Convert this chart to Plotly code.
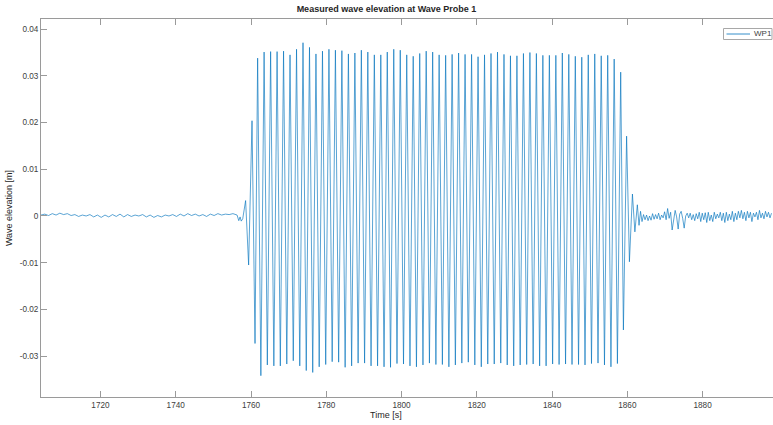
import plotly.graph_objects as go

# ---------------- data ----------------
# quiet water before the wave train (1 s sampling)
pre_t0, pre_dt = 1704.2, 1.0
pre_v = [0.0002, 0.0004, 0.0001, 0.0005, 0.0002, 0.0006, 0.0003, 0.0005, 0.0001, 0.0003,
         -0.0001, 0.0002, 0.0000, 0.0003, -0.0002, 0.0002, -0.0003, 0.0002, -0.0002, 0.0003,
         -0.0001, 0.0004, -0.0002, 0.0003, -0.0001, 0.0002, 0.0000, 0.0003, -0.0002, 0.0002,
         -0.0003, 0.0001, -0.0002, 0.0002, 0.0000, 0.0003, -0.0001, 0.0004, 0.0000, 0.0005,
         0.0001, 0.0004, 0.0000, 0.0003, -0.0001, 0.0004, 0.0001, 0.0005, 0.0002, 0.0004,
         0.0003, 0.0005]

# arrival of the wave front
onset_t = [1756.3, 1756.75, 1757.1, 1757.4, 1757.8, 1758.57, 1759.37, 1760.27, 1761.07]
onset_v = [0.0002, -0.0010, -0.0002, -0.0011, -0.0006, 0.0033, -0.0105, 0.0204, -0.0273]

# crests of the regular wave train
crest_t = [1761.76, 1763.48, 1765.21, 1766.93, 1768.65, 1770.37, 1772.10, 1773.82, 1775.54, 1777.26,
           1778.99, 1780.71, 1782.43, 1784.15, 1785.88, 1787.60, 1789.32, 1791.04, 1792.77, 1794.49,
           1796.21, 1797.93, 1799.66, 1801.38, 1803.10, 1804.83, 1806.55, 1808.27, 1809.99, 1811.72,
           1813.44, 1815.16, 1816.88, 1818.61, 1820.33, 1822.05, 1823.77, 1825.50, 1827.22, 1828.94,
           1830.66, 1832.39, 1834.11, 1835.83, 1837.55, 1839.28, 1841.00, 1842.72, 1844.44, 1846.17,
           1847.89, 1849.61, 1851.34, 1853.06, 1854.78, 1856.50, 1858.23]
crest_v = [0.0338, 0.0351, 0.0352, 0.0352, 0.0353, 0.0345, 0.0357, 0.0371, 0.0361, 0.0347,
           0.0353, 0.0357, 0.0355, 0.0354, 0.0347, 0.0349, 0.0355, 0.0351, 0.0345, 0.0345,
           0.0351, 0.0357, 0.0355, 0.0345, 0.0342, 0.0348, 0.0353, 0.0351, 0.0345,
           0.0344, 0.0346, 0.0349, 0.0346, 0.0346, 0.0341, 0.0345, 0.0348, 0.0351, 0.0346,
           0.0343, 0.0343, 0.0348, 0.0350, 0.0348, 0.0344, 0.0344, 0.0344, 0.0349, 0.0346,
           0.0342, 0.0340, 0.0345, 0.0347, 0.0343, 0.0344, 0.0336, 0.0308]

# troughs of the regular wave train
trough_t = [1762.62, 1764.34, 1766.07, 1767.79, 1769.51, 1771.23, 1772.96, 1774.68, 1776.40, 1778.12,
            1779.85, 1781.57, 1783.29, 1785.01, 1786.74, 1788.46, 1790.18, 1791.90, 1793.63, 1795.35,
            1797.07, 1798.79, 1800.52, 1802.24, 1803.96, 1805.69, 1807.41, 1809.13, 1810.85, 1812.58,
            1814.30, 1816.02, 1817.74, 1819.47, 1821.19, 1822.91, 1824.63, 1826.36, 1828.08, 1829.80,
            1831.52, 1833.25, 1834.97, 1836.69, 1838.41, 1840.14, 1841.86, 1843.58, 1845.30, 1847.03,
            1848.75, 1850.47, 1852.20, 1853.92, 1855.64, 1857.36]
trough_v = [-0.0342, -0.0319, -0.0321, -0.0321, -0.0317, -0.0310, -0.0321, -0.0331, -0.0335, -0.0323,
            -0.0318, -0.0312, -0.0313, -0.0324, -0.0321, -0.0315, -0.0315, -0.0321, -0.0321, -0.0323,
            -0.0324, -0.0316, -0.0317, -0.0321, -0.0323, -0.0319, -0.0315, -0.0318,
            -0.0318, -0.0323, -0.0319, -0.0315, -0.0313, -0.0319, -0.0323, -0.0317, -0.0317, -0.0315,
            -0.0319, -0.0321, -0.0319, -0.0318, -0.0317, -0.0321, -0.0321, -0.0317, -0.0318, -0.0317,
            -0.0318, -0.0318, -0.0319, -0.0316, -0.0315, -0.0319, -0.0323, -0.0316]

# decay after the wave maker stops
decay_t = [1858.95, 1859.80, 1860.55, 1861.35, 1862.00, 1862.65]
decay_v = [-0.0244, 0.0171, -0.0098, 0.0047, -0.0034, 0.0024]

# residual sloshing (0.4 s sampling)
post_t0, post_dt = 1863.1, 0.4
post_v = [-0.0020, 0.0010, -0.0012, 0.0003, -0.0008, 0.0002, -0.0010, 0.0000, -0.0009, 0.0005,
          -0.0007, 0.0003, -0.0006, 0.0006, -0.0008, 0.0002, -0.0004, 0.0009, -0.0008, 0.0016,
          -0.0005, 0.0008, -0.0030, -0.0005, 0.0012, -0.0002, -0.0028, 0.0004, 0.0010, -0.0005,
          -0.0026, 0.0000, 0.0006, -0.0004, 0.0006, -0.0008, 0.0003, -0.0010, 0.0005, -0.0006,
          0.0008, -0.0012, 0.0006, -0.0008, 0.0007, -0.0014, 0.0008, -0.0010, 0.0002, -0.0012,
          0.0008, -0.0006, 0.0004, -0.0004, 0.0008, -0.0010, 0.0006, -0.0014, 0.0008, -0.0010,
          0.0004, -0.0008, 0.0010, -0.0012, 0.0006, -0.0008, 0.0010, -0.0004, 0.0012, -0.0006,
          0.0008, -0.0010, 0.0010, -0.0004, 0.0008, -0.0012, 0.0006, -0.0002, 0.0008, -0.0008,
          0.0012, -0.0004, 0.0006, -0.0006, 0.0010, -0.0002, 0.0008, -0.0004, 0.0006]

x_ticks = [1720, 1740, 1760, 1780, 1800, 1820, 1840, 1860, 1880]
y_ticks = [-0.03, -0.02, -0.01, 0, 0.01, 0.02, 0.03, 0.04]
y_tick_text = ["-0.03", "-0.02", "-0.01", "0", "0.01", "0.02", "0.03", "0.04"]
series_name = "WP1"

# ---------------- assemble the series ----------------
pre_t = [round(pre_t0 + pre_dt * i, 3) for i in range(len(pre_v))]
post_t = [round(post_t0 + post_dt * i, 3) for i in range(len(post_v))]
pairs = (list(zip(pre_t, pre_v)) + list(zip(onset_t, onset_v)) + list(zip(crest_t, crest_v))
         + list(zip(trough_t, trough_v)) + list(zip(decay_t, decay_v)) + list(zip(post_t, post_v)))
pairs.sort(key=lambda p: p[0])
t = [p[0] for p in pairs]
v = [p[1] for p in pairs]

FONT = "Liberation Sans, Arial, Helvetica, sans-serif"
AX = "#9a9a9a"
LINE = "#0072BD"

# plot-area geometry (pixels) used to place the compact MATLAB-style legend
L, R, T, B = 41, 773, 19, 397
def px(xp):
    return (xp - L) / (R - L)
def py(yp):
    return (B - yp) / (B - T)

fig = go.Figure()
fig.add_trace(go.Scatter(x=t, y=v, mode="lines", name=series_name,
                         line=dict(color=LINE, width=0.65), showlegend=False))

shapes = [
    dict(type="rect", xref="paper", yref="paper", x0=px(723.5), x1=px(772), y0=py(39.5), y1=py(28.5),
         line=dict(color="#a8a8a8", width=1), fillcolor="white", layer="above"),
    dict(type="line", xref="paper", yref="paper", x0=px(726.5), x1=px(750), y0=py(34), y1=py(34),
         line=dict(color=LINE, width=0.8), layer="above"),
]

fig.update_layout(
    width=773, height=425,
    margin=dict(l=L, r=773 - R, t=T, b=425 - B),
    paper_bgcolor="white", plot_bgcolor="white",
    font=dict(family=FONT, size=8.2, color="#404040"),
    title=dict(text="<b>Measured wave elevation at Wave Probe 1</b>", x=0.5, xref="container",
               xanchor="center", y=1 - 8.5 / 425, yref="container", yanchor="middle",
               font=dict(family=FONT, size=9, color="#262626")),
    showlegend=False,
    shapes=shapes,
    annotations=[
        dict(text="Time [s]", xref="paper", yref="paper",
             x=px(386), y=py(415), xanchor="center", yanchor="middle",
             showarrow=False, font=dict(family=FONT, size=9, color="#262626")),
        dict(text=series_name, xref="paper", yref="paper",
             x=px(751.5), y=py(34), xanchor="left", yanchor="middle",
             showarrow=False, font=dict(family=FONT, size=8, color="#404040")),
    ],
)

fig.update_xaxes(
    range=[1704.2, 1898.7], tickvals=x_ticks, ticktext=[str(x) for x in x_ticks],
    showline=True, linecolor=AX, linewidth=1, mirror="ticks",
    ticks="inside", ticklen=6, tickcolor=AX, tickwidth=1,
    showgrid=False, zeroline=False,
)
fig.update_yaxes(
    range=[-0.03876, 0.04218], tickvals=y_ticks, ticktext=y_tick_text,
    showline=True, linecolor=AX, linewidth=1, mirror=False,
    ticks="inside", ticklen=6, tickcolor=AX, tickwidth=1,
    showgrid=False, zeroline=False,
    title=dict(text="Wave elevation [m]", standoff=5,
               font=dict(family=FONT, size=9, color="#262626")),
)

fig.write_html("out.html")
